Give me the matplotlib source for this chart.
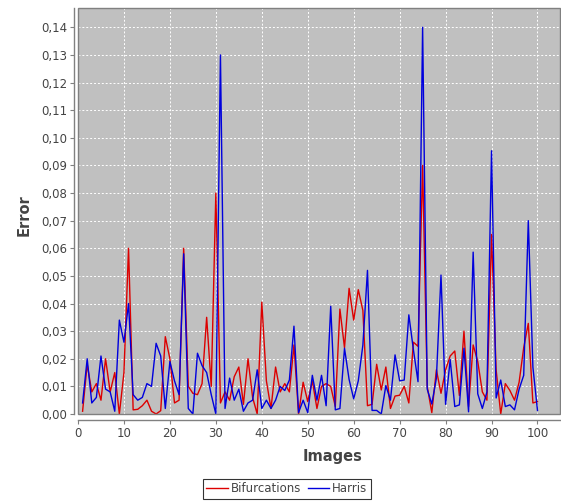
import matplotlib
matplotlib.use("Agg")
import matplotlib.pyplot as plt
from matplotlib.patches import Rectangle
from matplotlib.ticker import FuncFormatter, MultipleLocator

images = list(range(1, 101))

bifurcations = [
    0.001, 0.018, 0.008, 0.011, 0.005, 0.020, 0.008, 0.015, 0.000, 0.015,
    0.060, 0.0015, 0.0017, 0.003, 0.005, 0.001, 0.000, 0.0012, 0.028, 0.020,
    0.004, 0.005, 0.060, 0.010, 0.0075, 0.007, 0.011, 0.035, 0.010, 0.080,
    0.004, 0.008, 0.005, 0.0135, 0.017, 0.0035, 0.020, 0.006, 0.000, 0.0405,
    0.012, 0.002, 0.017, 0.008, 0.011, 0.008, 0.025, 0.000, 0.0115, 0.0045,
    0.012, 0.002, 0.010, 0.011, 0.010, 0.0027, 0.038, 0.024, 0.0455, 0.034,
    0.045, 0.0375, 0.003, 0.0035, 0.018, 0.0087, 0.017, 0.002, 0.0065, 0.0068,
    0.010, 0.004, 0.026, 0.0245, 0.090, 0.010, 0.0005, 0.016, 0.0075, 0.016,
    0.021, 0.0228, 0.0067, 0.030, 0.0027, 0.025, 0.019, 0.008, 0.005, 0.065,
    0.016, 0.000, 0.011, 0.0085, 0.005, 0.0115, 0.024, 0.0328, 0.004, 0.0045,
]

harris = [
    0.004, 0.020, 0.004, 0.006, 0.021, 0.009, 0.008, 0.001, 0.034, 0.026,
    0.040, 0.007, 0.005, 0.006, 0.011, 0.010, 0.0256, 0.021, 0.002, 0.019,
    0.012, 0.007, 0.058, 0.002, 0.000, 0.022, 0.0175, 0.015, 0.007, 0.000,
    0.130, 0.002, 0.013, 0.005, 0.009, 0.001, 0.004, 0.005, 0.016, 0.002,
    0.005, 0.002, 0.005, 0.010, 0.0085, 0.0123, 0.0318, 0.0005, 0.005, 0.0005,
    0.014, 0.005, 0.014, 0.003, 0.039, 0.0015, 0.002, 0.0238, 0.0125, 0.0055,
    0.012, 0.025, 0.052, 0.0013, 0.0013, 0.000, 0.0103, 0.005, 0.0214, 0.012,
    0.0123, 0.0359, 0.0232, 0.0117, 0.140, 0.009, 0.0036, 0.013, 0.0503, 0.0035,
    0.0197, 0.0027, 0.0033, 0.0238, 0.0008, 0.0586, 0.0073, 0.002, 0.008, 0.0953,
    0.0058, 0.0123, 0.0027, 0.0033, 0.0015, 0.009, 0.014, 0.070, 0.017, 0.0013,
]

series_names = ["Bifurcations", "Harris"]
x_label = "Images"
y_label = "Error"

W, H = 561, 501
fig = plt.figure(figsize=(W / 100, H / 100), dpi=100)
L, R, T, B = 78, 560, 8, 414
ax = fig.add_axes([L / W, 1 - B / H, (R - L) / W, (B - T) / H])
ax.set_facecolor("#c0c0c0")

ax.plot(images, bifurcations, color="#dd0000", lw=1.0, label=series_names[0])
ax.plot(images, harris, color="#0000dd", lw=1.0, label=series_names[1])

ax.set_xlim(0, 104.9)
ax.set_ylim(0, 0.147)
ax.xaxis.set_major_locator(MultipleLocator(10))
ax.yaxis.set_major_locator(MultipleLocator(0.01))
ax.yaxis.set_major_formatter(FuncFormatter(lambda v, p: f"{v:.2f}".replace(".", ",")))
ax.xaxis.set_major_formatter(FuncFormatter(lambda v, p: f"{int(round(v))}"))

ax.grid(True, color="white", linestyle=(0, (2, 2)), linewidth=0.7)
ax.set_axisbelow(True)

for s in ["top", "right"]:
    ax.spines[s].set_visible(False)
ax.spines["left"].set_position(("outward", 2.9))
ax.spines["bottom"].set_position(("outward", 4.3))
for s in ["left", "bottom"]:
    ax.spines[s].set_color("#808080")
    ax.spines[s].set_linewidth(1.0)

ax.add_patch(Rectangle((0, 0), 1, 1, transform=ax.transAxes, fill=False,
                       edgecolor="#808080", lw=1.0, clip_on=False, zorder=5))

ax.tick_params(axis="both", direction="out", length=3, width=0.8, color="#808080",
               labelcolor="#444444", labelsize=8.5, pad=2)

fig.text(333 / W, 1 - 456 / H, x_label, ha="center", va="center",
         fontsize=10.5, fontweight="bold", color="#444444")
fig.text(24 / W, 1 - 215 / H, y_label, ha="center", va="center", rotation=90,
         fontsize=10.5, fontweight="bold", color="#444444")

leg = fig.legend(loc="center", bbox_to_anchor=(287 / W, 1 - 489 / H), ncol=2,
                 fontsize=8.5, frameon=True, fancybox=False, handlelength=1.8,
                 handletextpad=0.3, columnspacing=0.5, borderpad=0.3,
                 borderaxespad=0)
leg.get_frame().set_edgecolor("#000000")
leg.get_frame().set_linewidth(0.8)
for t in leg.get_texts():
    t.set_color("#444444")

fig.savefig("out.png", dpi=100)
